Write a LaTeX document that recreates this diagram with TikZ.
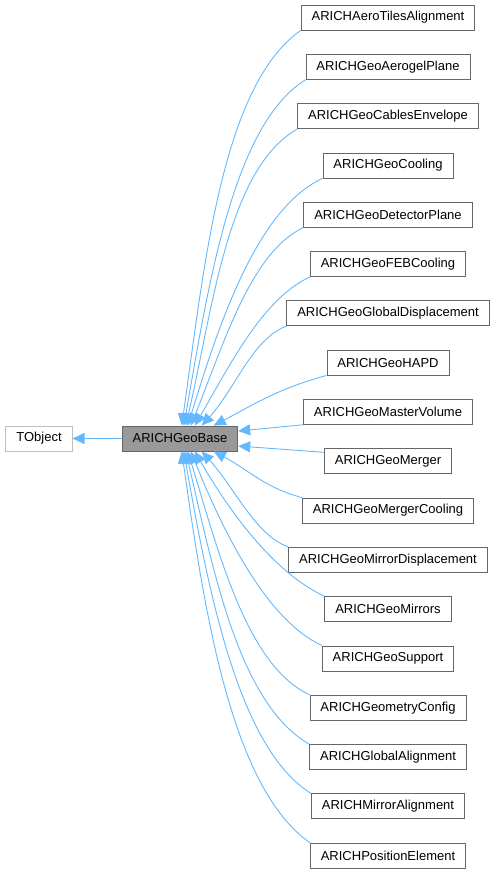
\documentclass[tikz,border=0pt]{standalone}
\usepackage{fontspec}
\setmainfont{Liberation Sans}
\usetikzlibrary{arrows.meta}
\definecolor{edgeblue}{HTML}{63B8FF}
\definecolor{boxgray}{HTML}{666666}
\definecolor{basefill}{HTML}{999999}
\definecolor{rootgray}{HTML}{BFBFBF}

\begin{document}
\begin{tikzpicture}[x=1pt,y=1pt,
	cls/.style={draw=boxgray, line width=0.8pt, inner xsep=10.5pt, inner ysep=0pt,
		minimum height=25pt, font=\fontsize{13}{15}\selectfont},
	basecls/.style={cls, fill=basefill},
	rootcls/.style={cls, draw=rootgray},
	inherit/.style={draw=edgeblue, line width=0.9pt, -{Triangle[length=12pt,width=11pt]}}]
	
	\useasboundingbox (0,0) rectangle (496,-875);
	
	\node[rootcls] (TObject) at (39,-438.5) {TObject};
	\node[basecls] (GeoBase) at (180,-438.5) {ARICHGeoBase};
	
	\foreach \name/\txt [count=\i from 0] in {
		AeroTiles/ARICHAeroTilesAlignment, AerogelPlane/ARICHGeoAerogelPlane,
		Cables/ARICHGeoCablesEnvelope, Cooling/ARICHGeoCooling,
		DetectorPlane/ARICHGeoDetectorPlane, FEBCooling/ARICHGeoFEBCooling,
		GlobalDispl/ARICHGeoGlobalDisplacement, HAPD/ARICHGeoHAPD,
		MasterVolume/ARICHGeoMasterVolume, Merger/ARICHGeoMerger,
		MergerCooling/ARICHGeoMergerCooling, MirrorDispl/ARICHGeoMirrorDisplacement,
		Mirrors/ARICHGeoMirrors, Support/ARICHGeoSupport,
		GeometryConfig/ARICHGeometryConfig, GlobalAlign/ARICHGlobalAlignment,
		MirrorAlign/ARICHMirrorAlignment, PositionElement/ARICHPositionElement}
		\node[cls] (\name) at (388,{-17.5-49.3*\i}) {\txt};
	
	\draw[inherit] (GeoBase.west) -- (TObject.east);
	
	\draw[inherit] (AeroTiles.south west) to[out=215,in=82,out looseness=0.6] ([xshift=60pt]GeoBase.north west);
	\draw[inherit] (AerogelPlane.south west) to[out=212,in=80,out looseness=0.6] ([xshift=62pt]GeoBase.north west);
	\draw[inherit] (Cables.south west) to[out=210,in=77,out looseness=0.65] ([xshift=64pt]GeoBase.north west);
	\draw[inherit] (Cooling.south west) to[out=205,in=73,out looseness=0.65] ([xshift=66pt]GeoBase.north west);
	\draw[inherit] (DetectorPlane.south west) to[out=205,in=68,out looseness=0.65] ([xshift=69pt]GeoBase.north west);
	\draw[inherit] (FEBCooling.south west) to[out=205,in=60,out looseness=0.7] ([xshift=73pt]GeoBase.north west);
	\draw[inherit] (GlobalDispl.south west) to[out=200,in=48,out looseness=0.7] ([xshift=80pt]GeoBase.north west);
	\draw[inherit] (HAPD.south west) to[out=195,in=28] ([xshift=92pt]GeoBase.north west);
	\draw[inherit] (MasterVolume.south west) -- ([yshift=7.5pt]GeoBase.east);
	
	\draw[inherit] ([yshift=-4pt]Merger.north west) -- ([yshift=-7.5pt]GeoBase.east);
	\draw[inherit] (MergerCooling.north west) to[out=165,in=-28] ([xshift=92pt]GeoBase.south west);
	\draw[inherit] (MirrorDispl.north west) to[out=160,in=-48,out looseness=0.7] ([xshift=80pt]GeoBase.south west);
	\draw[inherit] (Mirrors.north west) to[out=155,in=-60,out looseness=0.7] ([xshift=73pt]GeoBase.south west);
	\draw[inherit] (Support.north west) to[out=155,in=-68,out looseness=0.65] ([xshift=69pt]GeoBase.south west);
	\draw[inherit] (GeometryConfig.north west) to[out=155,in=-73,out looseness=0.65] ([xshift=66pt]GeoBase.south west);
	\draw[inherit] (GlobalAlign.north west) to[out=150,in=-77,out looseness=0.65] ([xshift=64pt]GeoBase.south west);
	\draw[inherit] (MirrorAlign.north west) to[out=148,in=-80,out looseness=0.6] ([xshift=62pt]GeoBase.south west);
	\draw[inherit] (PositionElement.north west) to[out=145,in=-82,out looseness=0.6] ([xshift=60pt]GeoBase.south west);
	
\end{tikzpicture}
\end{document}
